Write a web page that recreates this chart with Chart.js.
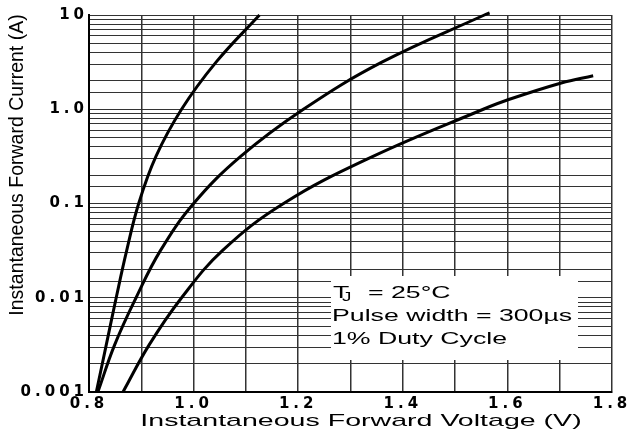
<!DOCTYPE html>
<html>
<head>
<meta charset="utf-8">
<script src="https://cdn.jsdelivr.net/npm/chart.js@4/dist/chart.umd.min.js"></script>
<style>
  html, body { margin: 0; padding: 0; background: #fff; }
  #wrap { width: 630px; height: 432px; }
</style>
</head>
<body>
<div id="wrap"><canvas id="ifChart" width="630" height="432"></canvas></div>
<script>
// curve 1 (left, steepest)
const v1 = [0.814, 0.833, 0.852, 0.872, 0.895, 0.928, 0.977, 1.043, 1.126];
const i1 = [0.001, 0.00316, 0.01, 0.0316, 0.1, 0.316, 1.0, 3.16, 10];
// curve 2 (middle)
const v2 = [0.817, 0.849, 0.890, 0.9365, 1.000, 1.090, 1.210, 1.360, 1.556, 1.566];
const i2 = [0.001, 0.00316, 0.01, 0.0316, 0.1, 0.316, 1.0, 3.16, 10, 10.5];
// curve 3 (right, flattest)
const v3 = [0.865, 0.915, 0.977, 1.055, 1.172, 1.343, 1.554, 1.601, 1.703, 1.764];
const i3 = [0.001, 0.00316, 0.01, 0.0316, 0.1, 0.316, 1.0, 1.26, 1.90, 2.27];

const xTickValues = [0.8, 1.0, 1.2, 1.4, 1.6, 1.8];
const xTickLabels = ['0.8', '1.0', '1.2', '1.4', '1.6', '1.8'];
const yTickValues = [0.001, 0.01, 0.1, 1, 10];
const yTickLabels = ['0.001', '0.01', '0.1', '1.0', '10'];

const xTitle = 'Instantaneous Forward Voltage (V)';
const yTitle = 'Instantaneous Forward Current (A)';
const noteLines = ['= 25\u00B0C', 'Pulse width = 300\u00B5s', '1% Duty Cycle'];

function pts(vs, is) {
    return vs.map((v, k) => ({x: v, y: is[k]}));
}

// stretched text, the original scan is wider than tall
function wideText(ctx, text, x, y, sx, align) {
    ctx.save();
    ctx.translate(x, y);
    ctx.scale(sx, 1);
    ctx.textAlign = align || 'left';
    ctx.fillText(text, 0, 0);
    ctx.restore();
}

const textPlugin = {
    id: 'textPlugin',
    beforeDraw(chart) {
        chart.ctx.letterSpacing = '4px';
    },
    afterDraw(chart) {
        const ctx = chart.ctx;
        ctx.save();
        ctx.letterSpacing = '0px';

        // white box behind the note
        ctx.fillStyle = '#fff';
        ctx.fillRect(331, 276, 247, 84);
        ctx.fillStyle = '#000';
        ctx.textBaseline = 'alphabetic';
        ctx.font = '17px "Liberation Sans", Arial, sans-serif';
        wideText(ctx, 'T', 333, 298, 1.57);
        ctx.font = '12px "Liberation Sans", Arial, sans-serif';
        wideText(ctx, 'J', 342, 301, 1.57);
        ctx.font = '17px "Liberation Sans", Arial, sans-serif';
        wideText(ctx, noteLines[0], 368, 298, 1.57);
        wideText(ctx, noteLines[1], 332, 321, 1.57);
        wideText(ctx, noteLines[2], 332, 344, 1.57);

        // axis titles
        ctx.font = '17px "Liberation Sans", Arial, sans-serif';
        ctx.textBaseline = 'middle';
        wideText(ctx, xTitle, 361, 421, 1.68, 'center');

        ctx.translate(18, 165);
        ctx.rotate(-Math.PI / 2);
        ctx.textAlign = 'center';
        ctx.font = '19.5px "Liberation Sans", Arial, sans-serif';
        ctx.fillText(yTitle, 0, 0);
        ctx.restore();
    }
};

const ctx = document.getElementById('ifChart').getContext('2d');
new Chart(ctx, {
    type: 'scatter',
    data: {
        datasets: [
            {data: pts(v1, i1)},
            {data: pts(v2, i2)},
            {data: pts(v3, i3)}
        ].map(d => Object.assign(d, {
            showLine: true,
            borderColor: '#000',
            borderWidth: 3,
            pointRadius: 0,
            tension: 0.4,
            clip: 6
        }))
    },
    options: {
        responsive: false,
        animation: false,
        layout: {padding: {left: 0, top: 15, right: 18, bottom: 0}},
        plugins: {
            legend: {display: false},
            tooltip: {enabled: false}
        },
        scales: {
            x: {
                type: 'linear',
                min: 0.8,
                max: 1.8,
                afterFit: s => { s.height = 40; },
                border: {color: '#000', width: 2},
                grid: {color: '#333', lineWidth: 1.5, drawTicks: false},
                ticks: {
                    stepSize: 0.1,
                    maxRotation: 0,
                    autoSkip: false,
                    padding: 3,
                    color: '#000',
                    font: {family: '"DejaVu Sans", sans-serif', size: 15, weight: 'bold'},
                    callback: v => {
                        const k = xTickValues.findIndex(t => Math.abs(t - v) < 1e-6);
                        return k >= 0 ? xTickLabels[k] : '';
                    }
                }
            },
            y: {
                type: 'logarithmic',
                min: 0.001,
                max: 10,
                afterFit: s => { s.width = 89; },
                border: {color: '#000', width: 2},
                grid: {color: '#333', lineWidth: 1, drawTicks: false},
                ticks: {
                    autoSkip: false,
                    padding: 1,
                    color: '#000',
                    font: {family: '"DejaVu Sans", sans-serif', size: 15, weight: 'bold'},
                    callback: v => {
                        const k = yTickValues.findIndex(t => Math.abs(v / t - 1) < 1e-6);
                        return k >= 0 ? yTickLabels[k] : '';
                    }
                }
            }
        }
    },
    plugins: [textPlugin]
});
</script>
</body>
</html>
